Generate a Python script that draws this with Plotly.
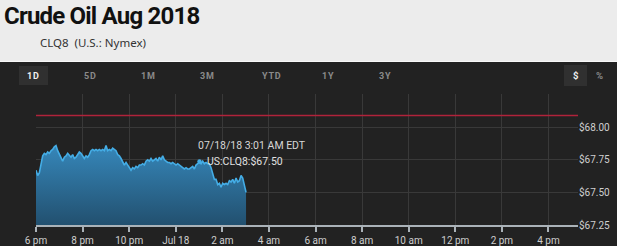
import pandas as pd
import plotly.graph_objects as go

# ---------------- data ----------------
title_text = "Crude Oil Aug 2018"
subtitle_text = "CLQ8 \u00a0(U.S.: Nymex)"
tooltip_time = "07/18/18 3:01 AM EDT"
tooltip_value = "US:CLQ8:$67.50"
range_buttons = ["1D", "5D", "1M", "3M", "YTD", "1Y", "3Y"]
unit_buttons = ["$", "%"]

prices = [
    67.67, 67.63, 67.65, 67.71, 67.78, 67.80, 67.79, 67.81, 67.80, 67.82,
    67.83, 67.85, 67.86, 67.82, 67.79, 67.76, 67.74, 67.77, 67.78, 67.80,
    67.78, 67.77, 67.79, 67.76, 67.77, 67.79, 67.81, 67.80, 67.78, 67.76,
    67.78, 67.77, 67.79, 67.82, 67.83, 67.82, 67.83, 67.82, 67.83, 67.82,
    67.83, 67.82, 67.86, 67.82, 67.83, 67.82, 67.84, 67.83, 67.82, 67.79,
    67.78, 67.76, 67.74, 67.71, 67.73, 67.71, 67.69, 67.67, 67.69, 67.68,
    67.70, 67.69, 67.71, 67.71, 67.72, 67.71, 67.74, 67.75, 67.74, 67.76,
    67.74, 67.75, 67.76, 67.74, 67.77, 67.75, 67.78, 67.75, 67.74, 67.73,
    67.73, 67.72, 67.73, 67.72, 67.71, 67.72, 67.71, 67.70, 67.69, 67.68,
    67.69, 67.68, 67.68, 67.69, 67.70, 67.68, 67.71, 67.72, 67.73, 67.72,
    67.74, 67.72, 67.73, 67.72, 67.72, 67.69, 67.65, 67.60, 67.60, 67.56,
    67.57, 67.54, 67.57, 67.56, 67.57, 67.56, 67.59, 67.58, 67.60, 67.57,
    67.61, 67.58, 67.59, 67.63, 67.61, 67.55, 67.50,
]
session_start = "2018-07-17 18:00"
last_trade = "2018-07-18 03:01"
view_end = "2018-07-18 17:16"
times = pd.date_range(session_start, last_trade, periods=len(prices))

prev_close = 68.09
y_ticks = [67.25, 67.50, 67.75, 68.00, 68.25]
y_ticktext = ["$67.25", "$67.50", "$67.75", "$68.00", ""]
x_ticks = pd.date_range("2018-07-17 18:00", "2018-07-18 16:00", freq="2h")
x_ticktext = ["6 pm", "8 pm", "10 pm", "Jul 18", "2 am", "4 am", "6 am",
              "8 am", "10 am", "12 pm", "2 pm", "4 pm"]
y_min, y_max = 67.25, 68.255

# ---------------- layout geometry (pixels) ----------------
W, H = 617, 246
L, R, T, B = 36, 578, 94, 225


def px_x(x):
    return (x - L) / (R - L)


def px_y(y):
    return (B - y) / (B - T)


DARK = "#222222"
LIGHT = "#ececec"
GRID = "#393939"

fig = go.Figure()

# baseline for the area
fig.add_trace(go.Scatter(x=times, y=[y_min] * len(times), mode="lines",
                         line=dict(width=0, color="rgba(0,0,0,0)"),
                         hoverinfo="skip", showlegend=False))
fig.add_trace(go.Scatter(
    x=times, y=prices, mode="lines", fill="tonexty",
    line=dict(color="#44ade6", width=1.6),
    fillgradient=dict(type="vertical", start=y_min, stop=max(prices),
                      colorscale=[[0, "#22506f"], [1, "#3687ba"]]),
    hoverinfo="skip", showlegend=False))

shapes = []
# light header band
shapes.append(dict(type="rect", xref="paper", yref="paper",
                   x0=px_x(-10), x1=px_x(W + 10), y0=px_y(62), y1=px_y(-10),
                   fillcolor=LIGHT, line=dict(width=0), layer="below"))
shapes.append(dict(type="line", xref="paper", yref="paper",
                   x0=px_x(-10), x1=px_x(W + 10), y0=px_y(61.5), y1=px_y(61.5),
                   line=dict(color="#f8f8f8", width=1)))
# active buttons
shapes.append(dict(type="rect", xref="paper", yref="paper",
                   x0=px_x(19), x1=px_x(48), y0=px_y(85), y1=px_y(66),
                   fillcolor="#303030", line=dict(width=0)))
shapes.append(dict(type="rect", xref="paper", yref="paper",
                   x0=px_x(564), x1=px_x(587), y0=px_y(86), y1=px_y(65),
                   fillcolor="#303030", line=dict(width=0)))
# previous close line
shapes.append(dict(type="line", xref="paper", yref="y",
                   x0=0, x1=1, y0=prev_close, y1=prev_close,
                   line=dict(color="#b0233b", width=1.6)))
# tooltip bullet
shapes.append(dict(type="circle", xref="paper", yref="paper",
                   xsizemode="pixel", ysizemode="pixel",
                   xanchor=px_x(199.5), yanchor=px_y(161.5),
                   x0=-2.2, x1=2.2, y0=-2.2, y1=2.2,
                   fillcolor="#44ade6", line=dict(width=0)))

annotations = []
annotations.append(dict(text="<span style='letter-spacing:-0.8px'><b>" + title_text + "</b></span>",
                        xref="paper", yref="paper",
                        x=px_x(2), y=px_y(16), xanchor="left", yanchor="middle",
                        showarrow=False,
                        font=dict(family="Roboto", size=24, color="#111111")))
annotations.append(dict(text=subtitle_text, xref="paper", yref="paper",
                        x=px_x(38), y=px_y(43), xanchor="left", yanchor="middle",
                        showarrow=False,
                        font=dict(family="Noto Sans", size=11.5, color="#333333")))
btn_x = [33.5, 90, 148, 207, 271, 328, 385]
for i, lab in enumerate(range_buttons):
    annotations.append(dict(text="<span style='letter-spacing:0.8px'><b>" + lab + "</b></span>",
                            xref="paper", yref="paper",
                            x=px_x(btn_x[i]), y=px_y(75.5), xanchor="center",
                            yanchor="middle", showarrow=False,
                            font=dict(family="Roboto", size=9,
                                      color="#f0f0f0" if i == 0 else "#8a8a8a")))
unit_x = [575.5, 599]
for i, lab in enumerate(unit_buttons):
    annotations.append(dict(text="<b>" + lab + "</b>", xref="paper", yref="paper",
                            x=px_x(unit_x[i]), y=px_y(75.5), xanchor="center",
                            yanchor="middle", showarrow=False,
                            font=dict(family="Roboto", size=9.5,
                                      color="#f0f0f0" if i == 0 else "#8a8a8a")))
# tooltip
annotations.append(dict(text=tooltip_time, xref="paper", yref="paper",
                        x=px_x(196), y=px_y(145.5), xanchor="left", yanchor="middle",
                        showarrow=False,
                        font=dict(family="Roboto", size=10.5, color="#d6d6d6")))
annotations.append(dict(text=tooltip_value,
                        xref="paper", yref="paper",
                        x=px_x(205), y=px_y(161.5), xanchor="left", yanchor="middle",
                        showarrow=False,
                        font=dict(family="Roboto", size=10.5, color="#e0e0e0")))

fig.update_layout(
    width=W, height=H,
    margin=dict(l=L, r=W - R, t=T, b=H - B, pad=0, autoexpand=False),
    paper_bgcolor=DARK, plot_bgcolor=DARK,
    shapes=shapes, annotations=annotations,
    showlegend=False,
    xaxis=dict(type="date", range=[session_start, view_end],
               tickvals=list(x_ticks), ticktext=x_ticktext,
               showgrid=True, gridcolor=GRID, gridwidth=1,
               showline=True, linecolor="#aab2b8", linewidth=1.5,
               ticks="outside", ticklen=5, tickwidth=1.5, tickcolor="#aab2b8",
               tickfont=dict(family="Roboto", size=10, color="#cfcfcf"),
               zeroline=False, fixedrange=True, automargin=False),
    yaxis=dict(range=[y_min, y_max], side="right",
               tickvals=y_ticks, ticktext=y_ticktext,
               showgrid=True, gridcolor=GRID, gridwidth=1,
               showline=False, ticks="", zeroline=False,
               tickfont=dict(family="Roboto", size=10, color="#cfcfcf"),
               fixedrange=True, automargin=False),
)

fig.write_html("out.html", config={"displayModeBar": False})
